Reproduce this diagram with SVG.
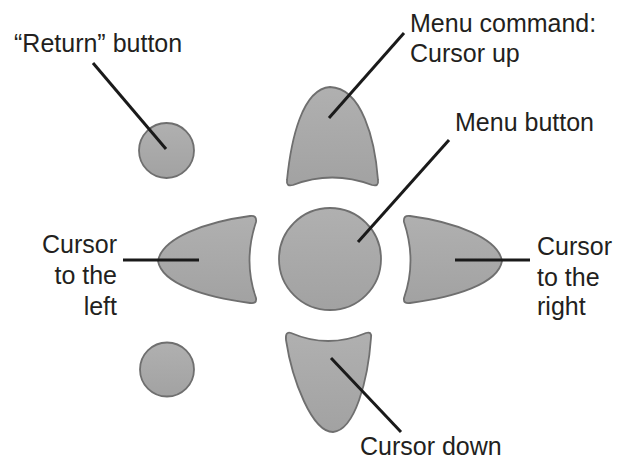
<svg xmlns="http://www.w3.org/2000/svg" width="627" height="472" viewBox="0 0 627 472">
<style>
.btn{fill:url(#g);stroke:#6f6f6f;stroke-width:1.8}
.lbl{font-family:"Liberation Sans",Arial,sans-serif;font-size:25px;fill:#231f20}
.ld{stroke:#1a1a1a;stroke-width:3;fill:none;stroke-linecap:butt}
</style>
<defs>
<linearGradient id="g" x1="0" y1="0" x2="0" y2="1">
<stop offset="0" stop-color="#b0b0b0"/>
<stop offset="1" stop-color="#a2a2a2"/>
</linearGradient>
</defs>
<rect width="627" height="472" fill="#fff"/>
<g id="return-button"><circle class="btn" cx="166.5" cy="150.5" r="27.5"/></g>
<g id="bottom-left-button"><circle class="btn" cx="167" cy="369.5" r="27"/></g>
<g id="menu-button"><circle class="btn" cx="330" cy="259" r="51"/></g>
<g id="cursor-up"><path class="btn" d="M330,87 C302,89 291,140 287,180 Q286,187 293,185 Q332,170 372,185 Q379,187 378,180 C375,140 362,88 330,87 Z"/></g>
<g id="cursor-down"><path class="btn" d="M291,333 Q328,349 366,333 Q372,331 371,338 C368,380 355,430 333,432 C312,432 292,380 286,340 Q285,331 291,333 Z"/></g>
<g id="cursor-left"><path class="btn" d="M158,261 C162,238 205,222 250,216 Q257,215 256,222 Q243,261 256,298 Q257,304 250,303 C205,297 162,284 158,261 Z"/></g>
<g id="cursor-right"><path class="btn" d="M502,261 C498,238 455,222 410,216 Q403,215 404,222 Q417,261 404,298 Q403,304 410,303 C455,297 498,284 502,261 Z"/></g>
<g id="connectors">
<line class="ld" x1="93" y1="63" x2="166" y2="149"/>
<line class="ld" x1="404" y1="33" x2="329" y2="118"/>
<line class="ld" x1="449" y1="140" x2="358" y2="242"/>
<line class="ld" x1="123" y1="260" x2="199" y2="260"/>
<line class="ld" x1="455" y1="260" x2="530" y2="260"/>
<line class="ld" x1="331" y1="358" x2="401" y2="432"/>
</g>
<g id="labels">
<text class="lbl" x="14" y="52">“Return” button</text>
<text class="lbl" x="410" y="32">Menu command:</text>
<text class="lbl" x="410" y="62">Cursor up</text>
<text class="lbl" x="455" y="131">Menu button</text>
<text class="lbl" x="117" y="253" text-anchor="end">Cursor</text>
<text class="lbl" x="117" y="284" text-anchor="end">to the</text>
<text class="lbl" x="117" y="315" text-anchor="end">left</text>
<text class="lbl" x="537" y="255">Cursor</text>
<text class="lbl" x="537" y="286">to the</text>
<text class="lbl" x="537" y="315">right</text>
<text class="lbl" x="360" y="455">Cursor down</text>
</g>
</svg>
